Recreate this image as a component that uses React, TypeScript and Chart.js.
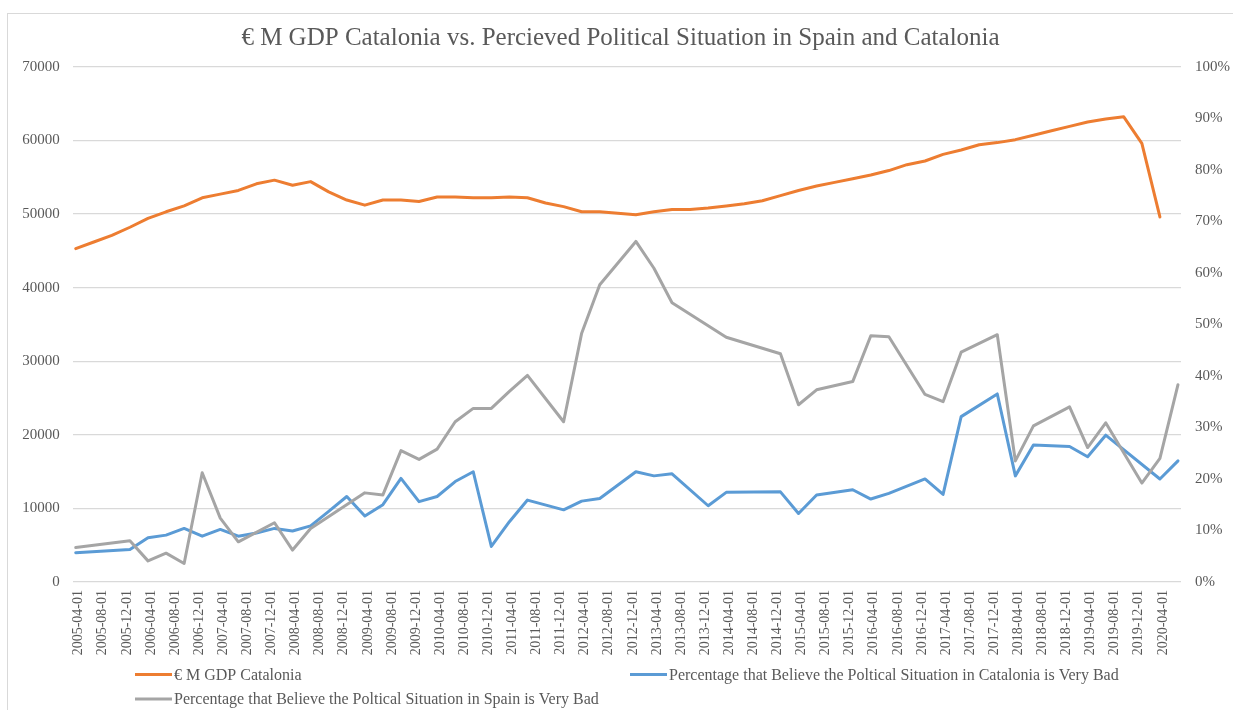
import React, { useEffect, useRef } from 'react';
import { Chart, registerables } from 'chart.js';

Chart.register(...registerables);

const FONT = '"Liberation Serif", "Times New Roman", serif';
const TEXT = '#595959';

const titleText = '€ M GDP Catalonia vs. Percieved Political Situation in Spain and Catalonia';
const seriesNames = [
  '€ M GDP Catalonia',
  'Percentage that Believe the Poltical Situation in Catalonia is Very Bad',
  'Percentage that Believe the Poltical Situation in Spain is Very Bad',
];
const seriesColors = ['#ED7D31', '#5B9BD5', '#A5A5A5'];

const tickLabels = [
  '2005-04-01', '2005-08-01', '2005-12-01', '2006-04-01', '2006-08-01', '2006-12-01',
  '2007-04-01', '2007-08-01', '2007-12-01', '2008-04-01', '2008-08-01', '2008-12-01',
  '2009-04-01', '2009-08-01', '2009-12-01', '2010-04-01', '2010-08-01', '2010-12-01',
  '2011-04-01', '2011-08-01', '2011-12-01', '2012-04-01', '2012-08-01', '2012-12-01',
  '2013-04-01', '2013-08-01', '2013-12-01', '2014-04-01', '2014-08-01', '2014-12-01',
  '2015-04-01', '2015-08-01', '2015-12-01', '2016-04-01', '2016-08-01', '2016-12-01',
  '2017-04-01', '2017-08-01', '2017-12-01', '2018-04-01', '2018-08-01', '2018-12-01',
  '2019-04-01', '2019-08-01', '2019-12-01', '2020-04-01',
];

const gdpDates = [
  '2005-04', '2005-07', '2005-10', '2006-01', '2006-04', '2006-07', '2006-10',
  '2007-01', '2007-04', '2007-07', '2007-10', '2008-01', '2008-04', '2008-07', '2008-10',
  '2009-01', '2009-04', '2009-07', '2009-10', '2010-01', '2010-04', '2010-07', '2010-10',
  '2011-01', '2011-04', '2011-07', '2011-10', '2012-01', '2012-04', '2012-07', '2012-10',
  '2013-01', '2013-04', '2013-07', '2013-10', '2014-01', '2014-04', '2014-07', '2014-10',
  '2015-01', '2015-04', '2015-07', '2015-10', '2016-01', '2016-04', '2016-07', '2016-10',
  '2017-01', '2017-04', '2017-07', '2017-10', '2018-01', '2018-04', '2018-07', '2018-10',
  '2019-01', '2019-04', '2019-07', '2019-10', '2020-01', '2020-04',
];
const gdpValues = [
  45300, 46200, 47100, 48200, 49400, 50300, 51100,
  52200, 52700, 53200, 54100, 54600, 53900, 54400, 53000,
  51900, 51200, 51900, 51900, 51700, 52300, 52300, 52200,
  52200, 52300, 52200, 51500, 51000, 50300, 50300, 50100,
  49900, 50300, 50600, 50600, 50800, 51100, 51400, 51800,
  52500, 53200, 53800, 54300, 54800, 55300, 55900, 56700,
  57200, 58100, 58700, 59400, 59700, 60100, 60700, 61300,
  61900, 62500, 62900, 63200, 59600, 49600,
];

const cataloniaDates = [
  '2005-04', '2006-01', '2006-04', '2006-07', '2006-10', '2007-01', '2007-04', '2007-07',
  '2007-10', '2008-01', '2008-04', '2008-07', '2008-10', '2009-01', '2009-04', '2009-07',
  '2009-10', '2010-01', '2010-04', '2010-07', '2010-10', '2011-01', '2011-04', '2011-07',
  '2012-01', '2012-04', '2012-07', '2013-01', '2013-04', '2013-07', '2014-01', '2014-04',
  '2015-01', '2015-04', '2015-07', '2016-01', '2016-04', '2016-07', '2017-01', '2017-04',
  '2017-07', '2018-01', '2018-04', '2018-07', '2019-01', '2019-04', '2019-07', '2020-04',
  '2020-07',
];
const cataloniaValues = [
  5.7, 6.3, 8.6, 9.1, 10.4, 8.9, 10.2, 8.9,
  9.5, 10.4, 9.9, 10.9, 13.7, 16.6, 12.8, 15.0,
  20.1, 15.6, 16.6, 19.5, 21.4, 6.9, 11.7, 15.9,
  14.0, 15.7, 16.2, 21.4, 20.6, 21.0, 14.8, 17.4,
  17.5, 13.3, 16.9, 17.9, 16.1, 17.2, 20.0, 17.0,
  32.1, 36.5, 20.6, 26.6, 26.3, 24.3, 28.5, 20.0,
  23.5,
];

const spainDates = [
  '2005-04', '2006-01', '2006-04', '2006-07', '2006-10', '2007-01', '2007-04', '2007-07',
  '2008-01', '2008-04', '2008-07', '2009-04', '2009-07', '2009-10', '2010-01', '2010-04',
  '2010-07', '2010-10', '2011-01', '2011-04', '2011-07', '2012-01', '2012-04', '2012-07',
  '2013-01', '2013-04', '2013-07', '2014-04', '2015-01', '2015-04', '2015-07', '2016-01',
  '2016-04', '2016-07', '2017-01', '2017-04', '2017-07', '2018-01', '2018-04', '2018-07',
  '2019-01', '2019-04', '2019-07', '2020-01', '2020-04', '2020-07',
];
const spainValues = [
  6.7, 8.0, 4.1, 5.6, 3.6, 21.2, 12.4, 7.8,
  11.5, 6.2, 10.4, 17.3, 16.9, 25.5, 23.8, 25.8,
  31.1, 33.7, 33.7, 37.0, 40.1, 31.1, 48.3, 57.7,
  66.1, 60.9, 54.2, 47.5, 44.3, 34.4, 37.3, 38.9,
  47.8, 47.6, 36.4, 35.0, 44.6, 48.0, 23.5, 30.3,
  34.0, 26.1, 30.9, 19.2, 24.0, 38.3,
];

function monthIndex(d: string): number {
  const [y, m] = d.split('-').map(Number);
  return (y - 2005) * 12 + (m - 4);
}

function toPoints(dates: string[], values: number[]) {
  return dates.map((d, i) => ({ x: monthIndex(d), y: values[i] }));
}

const legendLayout = [
  { ds: 0, x: 127, y: 660.5 },
  { ds: 1, x: 622, y: 660.5 },
  { ds: 2, x: 127, y: 685 },
];

const excelLegend = {
  id: 'excelLegend',
  afterDraw(chart: any) {
    const ctx = chart.ctx as CanvasRenderingContext2D;
    ctx.save();
    ctx.font = `16px ${FONT}`;
    ctx.textBaseline = 'middle';
    ctx.textAlign = 'left';
    legendLayout.forEach((it) => {
      const ds = chart.data.datasets[it.ds];
      ctx.strokeStyle = ds.borderColor;
      ctx.lineWidth = 3;
      ctx.beginPath();
      ctx.moveTo(it.x, it.y);
      ctx.lineTo(it.x + 37, it.y);
      ctx.stroke();
      ctx.fillStyle = TEXT;
      ctx.fillText(ds.label, it.x + 39, it.y + 1);
    });
    ctx.restore();
  },
};

export default function App() {
  const canvasRef = useRef<HTMLCanvasElement | null>(null);

  useEffect(() => {
    if (!canvasRef.current) return;
    Chart.defaults.font.family = FONT;
    Chart.defaults.color = TEXT;
    const tickMonths = tickLabels.map((l) => monthIndex(l.slice(0, 7)));

    const chart = new Chart(canvasRef.current, {
      type: 'line',
      data: {
        datasets: [
          {
            label: seriesNames[0],
            data: toPoints(gdpDates, gdpValues),
            borderColor: seriesColors[0],
            backgroundColor: seriesColors[0],
            borderWidth: 3,
            pointRadius: 0,
            tension: 0,
            yAxisID: 'y',
            order: 3,
          },
          {
            label: seriesNames[1],
            data: toPoints(cataloniaDates, cataloniaValues),
            borderColor: seriesColors[1],
            backgroundColor: seriesColors[1],
            borderWidth: 3,
            pointRadius: 0,
            tension: 0,
            yAxisID: 'y1',
            order: 2,
          },
          {
            label: seriesNames[2],
            data: toPoints(spainDates, spainValues),
            borderColor: seriesColors[2],
            backgroundColor: seriesColors[2],
            borderWidth: 3,
            pointRadius: 0,
            tension: 0,
            yAxisID: 'y1',
            order: 1,
          },
        ],
      },
      options: {
        animation: false,
        responsive: true,
        maintainAspectRatio: false,
        layout: { padding: { left: 0, right: 0, top: 0, bottom: 48 } },
        elements: { line: { borderJoinStyle: 'round', borderCapStyle: 'round' } },
        plugins: {
          legend: { display: false },
          tooltip: { enabled: false },
          title: {
            display: true,
            text: titleText,
            color: TEXT,
            font: { family: FONT, size: 25, weight: 'normal', lineHeight: 1.2 },
            padding: { top: 9, bottom: 13.8 },
          },
        },
        scales: {
          x: {
            type: 'linear',
            min: -0.5,
            max: 183.5,
            grid: { display: false, drawTicks: false },
            border: { display: false },
            afterBuildTicks: (scale: any) => {
              scale.ticks = tickMonths.map((v) => ({ value: v }));
            },
            afterFit: (scale: any) => {
              scale.height = 80;
            },
            ticks: {
              autoSkip: false,
              minRotation: 90,
              maxRotation: 90,
              padding: 8,
              labelOffset: 3,
              color: TEXT,
              font: { family: FONT, size: 14 },
              callback: (_v: any, i: number) => tickLabels[i],
            },
          },
          y: {
            type: 'linear',
            position: 'left',
            min: 0,
            max: 70000,
            grid: { color: '#D9D9D9', lineWidth: 1.3, drawTicks: false },
            border: { display: false },
            afterFit: (scale: any) => {
              scale.width = 64.7;
            },
            ticks: {
              stepSize: 10000,
              padding: 13,
              color: TEXT,
              font: { family: FONT, size: 15 },
              callback: (v: any) => String(v),
            },
          },
          y1: {
            type: 'linear',
            position: 'right',
            min: 0,
            max: 100,
            grid: { display: false, drawTicks: false },
            border: { display: false },
            afterFit: (scale: any) => {
              scale.width = 52;
            },
            ticks: {
              stepSize: 10,
              padding: 14,
              color: TEXT,
              font: { family: FONT, size: 15 },
              callback: (v: any) => `${v}%`,
            },
          },
        },
      },
      plugins: [excelLegend],
    });

    return () => chart.destroy();
  }, []);

  return (
    <div
      style={{
        position: 'absolute',
        top: 13,
        left: 7,
        width: 1226,
        height: 697,
        boxSizing: 'border-box',
        borderTop: '1px solid #D9D9D9',
        borderLeft: '1px solid #D9D9D9',
        background: '#FFFFFF',
      }}
    >
      <div style={{ position: 'relative', width: 1225, height: 696 }}>
        <canvas ref={canvasRef} />
      </div>
    </div>
  );
}
